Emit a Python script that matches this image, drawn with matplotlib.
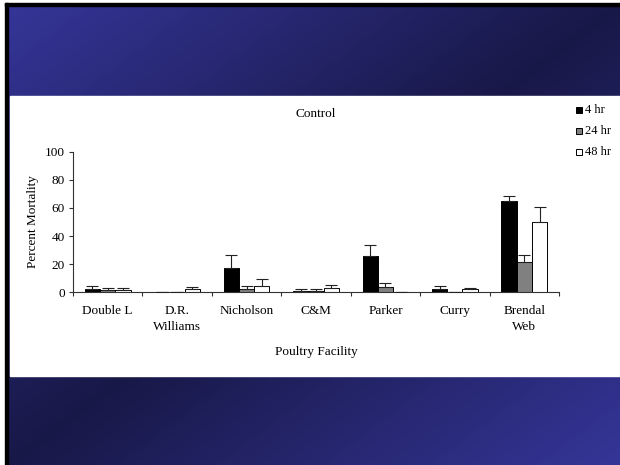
import matplotlib.pyplot as plt
import numpy as np
from matplotlib.patches import Rectangle

# data
facilities = ['Double L', 'D.R.\nWilliams', 'Nicholson', 'C&M', 'Parker', 'Curry', 'Brendal\nWeb']
series = ['4 hr', '24 hr', '48 hr']
mort_4hr = [2.5, 0, 17.5, 1, 26, 2.5, 65]
mort_24hr = [1.5, 0, 2, 1, 3.7, 0, 21.5]
mort_48hr = [1.5, 2, 4.5, 3, 0, 2, 50]
err_4hr = [2, 0, 9, 1.2, 7.5, 2, 3.5]
err_24hr = [1.3, 0, 2.5, 1.3, 2.8, 0, 5]
err_48hr = [1.3, 2, 5, 2, 0, 1, 10.5]

colors = ['black', '#808080', 'white']
W, H = 620, 465
plt.rcParams['font.family'] = ['Liberation Serif', 'DejaVu Serif']

fig = plt.figure(figsize=(6.2, 4.65), dpi=100)

# slide background: diagonal gradient, bright corners -> dark middle
bg = fig.add_axes([0, 0, 1, 1])
bg.set_xlim(0, W)
bg.set_ylim(H, 0)
bg.axis('off')
gx, gy = np.meshgrid(np.linspace(0, 1, 200), np.linspace(0, 1, 200))
t = np.abs((gx + gy) / 2 - 0.5) * 2
bright = np.array([53, 53, 152]) / 255
dark = np.array([24, 24, 72]) / 255
img = dark + (bright - dark) * t[..., None]
bg.imshow(img, extent=[8, W, H, 6], aspect='auto', zorder=0)
bg.add_patch(Rectangle((5, 3), W, 3, color='black', zorder=1))
bg.add_patch(Rectangle((5, 3), 3, H, color='black', zorder=1))
bg.add_patch(Rectangle((10, 96), W - 10, 280, color='white', zorder=2))

ax = fig.add_axes([73 / W, 1 - 292.3 / H, 486 / W, 140.6 / H])
ax.patch.set_alpha(0)
x = np.arange(len(facilities))
bw = 0.22
for i, (vals, errs) in enumerate([(mort_4hr, err_4hr), (mort_24hr, err_24hr), (mort_48hr, err_48hr)]):
    pos = x + 0.5 + (i - 1) * bw
    ax.bar(pos, vals, bw, color=colors[i], edgecolor='black', linewidth=0.7, zorder=2)
    ax.errorbar(pos, vals, yerr=[np.zeros(len(errs)), errs], fmt='none',
                ecolor='#222222', elinewidth=0.8, capsize=4, capthick=0.8, zorder=3)

ax.set_xlim(0, len(facilities))
ax.set_ylim(0, 100)
ax.set_yticks(range(0, 101, 20))
ax.set_xticks(range(len(facilities) + 1))
ax.set_xticklabels([])
ax.set_xticks(x + 0.5, minor=True)
ax.set_xticklabels(facilities, minor=True, fontsize=9.5, linespacing=1.45)
ax.tick_params(axis='x', which='minor', length=0, pad=9)
ax.tick_params(axis='x', which='major', length=3, width=0.8, color='#333333')
ax.tick_params(axis='y', length=3, width=0.8, color='#333333', labelsize=9.5, pad=3)
for s in ['top', 'right']:
    ax.spines[s].set_visible(False)
for s in ['left', 'bottom']:
    ax.spines[s].set_color('#333333')
    ax.spines[s].set_linewidth(0.8)
ax.set_ylabel('Percent Mortality', fontsize=9.5, labelpad=4)

fig.text(316 / W, 1 - 114 / H, 'Control', ha='center', va='center', fontsize=9.5)
fig.text(316 / W, 1 - 352 / H, 'Poultry Facility', ha='center', va='center', fontsize=9.5)

# legend
for i, lab in enumerate(series):
    yc = 110 + i * 21
    bg.add_patch(Rectangle((576, yc - 3), 6, 6, facecolor=colors[i], edgecolor='black',
                           linewidth=0.7, zorder=3))
    bg.text(585, yc, lab, ha='left', va='center', fontsize=9, zorder=3)

fig.savefig('out.png', dpi=100)
